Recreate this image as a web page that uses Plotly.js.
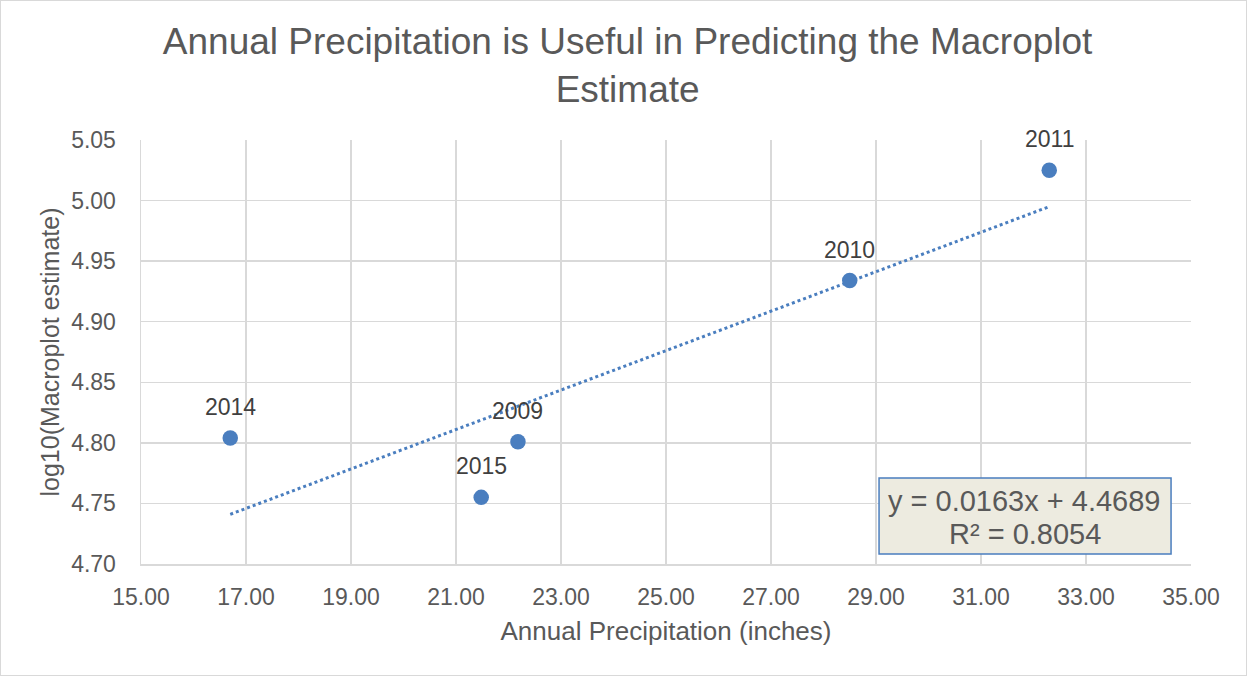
<!DOCTYPE html>
<html>
<head>
<meta charset="utf-8">
<script src="https://cdn.plot.ly/plotly-3.0.1.min.js"></script>
<style>
html,body{margin:0;padding:0;background:#fff;}
#chart{width:1247px;height:676px;box-sizing:border-box;border:1px solid #d9d9d9;}
</style>
</head>
<body>
<div id="chart"></div>
<script>
// Data
const years = ["2014", "2015", "2009", "2010", "2011"];
const precipitation = [16.70, 21.48, 22.18, 28.50, 32.30];
const logEstimate = [4.804, 4.755, 4.801, 4.934, 5.025];
const trendX = [16.70, 32.30];
const trendY = [4.741, 4.995];
const equationLine1 = "y = 0.0163x + 4.4689";
const equationLine2 = "R² = 0.8054";
const xTicks = [15, 17, 19, 21, 23, 25, 27, 29, 31, 33, 35];
const yTicks = [4.70, 4.75, 4.80, 4.85, 4.90, 4.95, 5.00, 5.05];

const blue = "#4a7ebf";
const textGray = "#595959";
const FONT = "Liberation Sans, Arial, sans-serif";

const traces = [
  {
    x: trendX, y: trendY, mode: "lines", type: "scatter",
    line: {color: blue, width: 3, dash: "dot"},
    hoverinfo: "skip", showlegend: false
  },
  {
    x: precipitation, y: logEstimate, mode: "markers", type: "scatter",
    marker: {color: blue, size: 15.5},
    showlegend: false
  }
];

const labelAnnotations = years.map((yr, i) => ({
  x: precipitation[i], y: logEstimate[i], xref: "x", yref: "y",
  text: yr, showarrow: false, xanchor: "center", yanchor: "middle",
  yshift: 31, font: {family: FONT, size: 23, color: "#404040"}
}));

const layout = {
  width: 1247, height: 676,
  margin: {l: 140, r: 57, t: 139, b: 113},
  paper_bgcolor: "rgba(0,0,0,0)",
  plot_bgcolor: "#ffffff",
  font: {family: FONT, color: textGray},
  title: {
    text: "Annual Precipitation is Useful in Predicting the Macroplot<br>Estimate",
    font: {size: 37, color: textGray},
    x: 0.5025, xanchor: "center", y: 0.922, yanchor: "middle"
  },
  xaxis: {
    range: [15, 35], tickvals: xTicks, tickformat: ".2f",
    showgrid: true, gridcolor: "#d9d9d9", gridwidth: 1.5,
    zeroline: false, showline: true, linecolor: "#d9d9d9", linewidth: 1.5,
    ticks: "outside", ticklen: 12, tickcolor: "rgba(0,0,0,0)",
    tickfont: {size: 23, color: textGray},
    title: {text: "Annual Precipitation (inches)", font: {size: 26, color: textGray}, standoff: 12}
  },
  yaxis: {
    range: [4.70, 5.05], tickvals: yTicks, tickformat: ".2f",
    showgrid: true, gridcolor: "#d9d9d9", gridwidth: 1.5,
    zeroline: false, showline: true, linecolor: "#d9d9d9", linewidth: 1.5,
    ticks: "outside", ticklen: 19, tickcolor: "rgba(0,0,0,0)",
    tickfont: {size: 23, color: textGray},
    title: {text: "log10(Macroplot estimate)", font: {size: 25, color: textGray}, standoff: 4}
  },
  shapes: [
    {
      type: "rect", xref: "paper", yref: "paper",
      x0: 0.7029, x1: 0.981, y0: 0.0236, y1: 0.2028,
      fillcolor: "#edebe0", line: {color: blue, width: 1.5}, layer: "above"
    }
  ],
  annotations: labelAnnotations.concat([
    {
      xref: "paper", yref: "paper", x: 0.8419, y: 0.1486,
      xanchor: "center", yanchor: "middle", showarrow: false,
      text: equationLine1, font: {size: 29, color: textGray}
    },
    {
      xref: "paper", yref: "paper", x: 0.8419, y: 0.0708,
      xanchor: "center", yanchor: "middle", showarrow: false,
      text: equationLine2, font: {size: 29, color: textGray}
    }
  ])
};

Plotly.newPlot("chart", traces, layout, {displayModeBar: false, staticPlot: true});
</script>
</body>
</html>
